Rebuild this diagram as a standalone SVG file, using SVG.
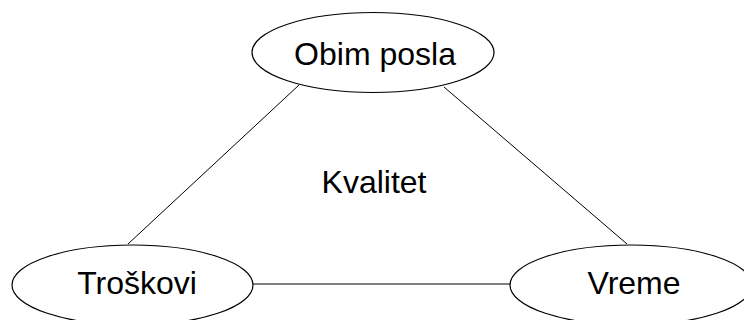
<svg xmlns="http://www.w3.org/2000/svg" width="744" height="320" viewBox="0 0 744 320">
<style>
.n{fill:#fff;stroke:#000;stroke-width:1.2}
.t{font-family:"Liberation Sans",Arial,sans-serif;font-size:32px;fill:#000;text-anchor:middle}
.c line{stroke:#000;stroke-width:1}
</style>
<rect width="744" height="320" fill="#fff"/>
<g class="c" id="connectors">
<line x1="299" y1="85" x2="128" y2="244"/>
<line x1="444" y1="87" x2="627" y2="244"/>
<line x1="253" y1="284" x2="511" y2="284"/>
</g>
<g id="obim"><ellipse class="n" cx="373" cy="52.5" rx="121" ry="40"/><text class="t" x="375" y="65">Obim posla</text></g>
<g id="troskovi"><ellipse class="n" cx="132.5" cy="285" rx="120.5" ry="40"/><text class="t" x="137" y="294">Troškovi</text></g>
<g id="vreme"><ellipse class="n" cx="631" cy="285" rx="121" ry="40"/><text class="t" x="634" y="294">Vreme</text></g>
<g id="kvalitet"><text class="t" x="374" y="193">Kvalitet</text></g>
</svg>
